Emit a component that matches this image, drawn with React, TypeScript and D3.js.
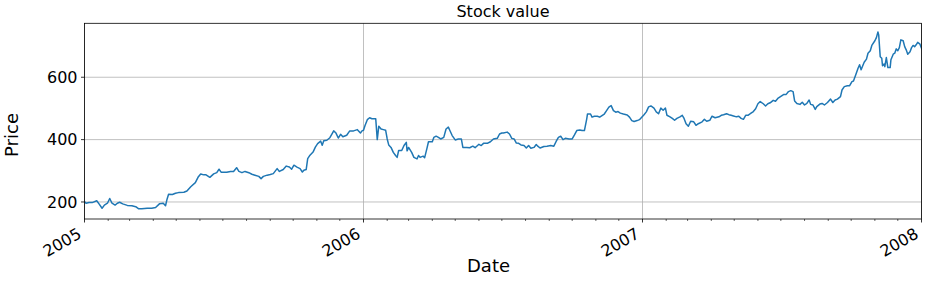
import React, { useEffect } from "react";
import * as d3 from "d3";

const dates: string[] = [
  "2004-12-31","2005-01-03","2005-01-07","2005-01-11","2005-01-17","2005-01-20","2005-01-24","2005-01-27","2005-01-31",
  "2005-02-03","2005-02-06","2005-02-10","2005-02-13","2005-02-16","2005-02-20","2005-02-26","2005-03-04","2005-03-09",
  "2005-03-13","2005-03-17","2005-03-24","2005-03-30","2005-04-04","2005-04-09","2005-04-14","2005-04-17","2005-04-19",
  "2005-04-21","2005-04-26","2005-04-30","2005-05-04","2005-05-11","2005-05-15","2005-05-20","2005-05-26","2005-05-30",
  "2005-06-02","2005-06-06","2005-06-09","2005-06-14","2005-06-19","2005-06-23","2005-06-26","2005-06-29","2005-07-02",
  "2005-07-06","2005-07-11","2005-07-15","2005-07-19","2005-07-22","2005-07-26","2005-07-30","2005-08-04","2005-08-08",
  "2005-08-12","2005-08-17","2005-08-20","2005-08-23","2005-08-28","2005-09-01","2005-09-05","2005-09-10","2005-09-13",
  "2005-09-18","2005-09-22","2005-09-26","2005-09-29","2005-10-02","2005-10-06","2005-10-10","2005-10-13","2005-10-15",
  "2005-10-18","2005-10-20","2005-10-23","2005-10-27","2005-10-30","2005-11-02","2005-11-06","2005-11-08","2005-11-10",
  "2005-11-14","2005-11-18","2005-11-21","2005-11-23","2005-11-26","2005-11-29","2005-12-02","2005-12-05","2005-12-10",
  "2005-12-14","2005-12-19","2005-12-24","2005-12-28","2005-12-30","2006-01-01",
  "2006-01-03","2006-01-06","2006-01-09","2006-01-12","2006-01-17","2006-01-19","2006-01-21","2006-01-24","2006-01-27",
  "2006-01-30","2006-02-01","2006-02-03","2006-02-06","2006-02-09","2006-02-12","2006-02-14","2006-02-16","2006-02-20",
  "2006-02-23","2006-02-26","2006-02-27","2006-03-01","2006-03-05","2006-03-08","2006-03-12","2006-03-14","2006-03-16",
  "2006-03-20","2006-03-22","2006-03-25","2006-03-27","2006-04-01","2006-04-03","2006-04-06","2006-04-09","2006-04-12",
  "2006-04-16","2006-04-19","2006-04-22","2006-04-24","2006-04-27","2006-05-01","2006-05-05","2006-05-09","2006-05-11",
  "2006-05-16","2006-05-20","2006-05-24","2006-05-27","2006-06-01","2006-06-04","2006-06-07","2006-06-12","2006-06-16",
  "2006-06-20","2006-06-25","2006-06-28","2006-07-01","2006-07-03",
  "2006-07-08","2006-07-11","2006-07-14","2006-07-17","2006-07-20","2006-07-23","2006-07-26","2006-07-30","2006-08-02",
  "2006-08-05","2006-08-08","2006-08-12","2006-08-15","2006-08-17","2006-08-20","2006-08-25","2006-08-29","2006-09-03",
  "2006-09-07","2006-09-10","2006-09-13","2006-09-16","2006-09-19","2006-09-22","2006-09-27","2006-10-01","2006-10-04",
  "2006-10-07","2006-10-11","2006-10-14","2006-10-17","2006-10-20","2006-10-21","2006-10-25","2006-10-27","2006-10-30",
  "2006-11-03","2006-11-06","2006-11-09","2006-11-12","2006-11-15","2006-11-18","2006-11-21","2006-11-24","2006-11-27",
  "2006-11-30","2006-12-03","2006-12-07","2006-12-12","2006-12-15","2006-12-18","2006-12-21","2006-12-25","2006-12-28",
  "2006-12-31","2007-01-03",
  "2007-01-06","2007-01-09","2007-01-12","2007-01-16","2007-01-19","2007-01-22","2007-01-25","2007-01-28","2007-01-31",
  "2007-02-02","2007-02-06","2007-02-09","2007-02-12","2007-02-15","2007-02-19","2007-02-22","2007-02-24","2007-02-27",
  "2007-03-02","2007-03-05","2007-03-09","2007-03-12","2007-03-15","2007-03-20","2007-03-23","2007-03-26","2007-03-30",
  "2007-04-02","2007-04-06","2007-04-11","2007-04-14","2007-04-17","2007-04-21","2007-04-24","2007-04-27","2007-04-30",
  "2007-05-04","2007-05-07","2007-05-10","2007-05-13","2007-05-16","2007-05-19","2007-05-22","2007-05-26","2007-05-29",
  "2007-06-01","2007-06-04","2007-06-08","2007-06-11","2007-06-14","2007-06-17","2007-06-21","2007-06-24","2007-06-27",
  "2007-06-30","2007-07-05",
  "2007-07-08","2007-07-11","2007-07-14","2007-07-17","2007-07-19","2007-07-22","2007-07-26","2007-07-29","2007-08-01",
  "2007-08-04","2007-08-07","2007-08-09","2007-08-12","2007-08-15","2007-08-17","2007-08-21","2007-08-24","2007-08-27",
  "2007-08-31","2007-09-04","2007-09-07","2007-09-10","2007-09-13","2007-09-17","2007-09-19","2007-09-22","2007-09-26",
  "2007-09-29","2007-10-02","2007-10-04","2007-10-07","2007-10-10","2007-10-12","2007-10-14","2007-10-18","2007-10-21",
  "2007-10-23","2007-10-26","2007-10-28","2007-11-01","2007-11-03","2007-11-05","2007-11-06","2007-11-08","2007-11-10",
  "2007-11-11","2007-11-13","2007-11-14","2007-11-16","2007-11-18","2007-11-21","2007-11-22","2007-11-25","2007-11-27",
  "2007-11-29","2007-12-01","2007-12-03","2007-12-05","2007-12-08","2007-12-10","2007-12-12","2007-12-14","2007-12-17",
  "2007-12-19","2007-12-21","2007-12-23","2007-12-25","2007-12-27","2007-12-30","2008-01-01","2008-01-04"
];

const prices: number[] = [
  204,196,198,198,204,194,180,190,196,
  211,196,190,196,199,194,189,188,185,
  178,178,180,180,182,194,196,188,209,
  225,224,228,230,231,235,249,262,281,
  290,287,287,279,290,294,305,295,295,
  295,298,298,310,298,294,298,294,289,
  286,282,275,282,286,288,291,307,298,
  304,315,312,305,318,312,307,296,302,
  304,339,350,360,376,387,395,382,396,
  398,406,419,428,421,405,417,409,414,
  428,428,432,421,428,430,
  445,464,470,467,467,400,443,434,432,
  430,402,383,375,359,349,343,365,365,
  381,391,364,375,359,343,338,349,343,
  347,342,372,393,393,407,411,407,402,
  407,434,440,429,413,399,402,402,375,
  375,374,379,374,385,381,388,388,393,
  402,404,418,421,421,
  424,418,404,402,389,388,383,381,373,
  381,372,375,384,379,373,378,379,381,
  379,394,407,411,400,404,402,402,415,
  429,431,429,429,466,482,482,472,475,
  475,472,477,482,493,504,509,493,488,
  490,485,482,479,472,461,458,461,464,
  472,480,
  489,505,508,501,489,483,501,494,501,
  478,473,468,462,468,473,478,470,451,
  443,459,457,446,451,457,465,459,462,
  475,470,473,478,480,483,480,478,476,
  473,475,468,465,478,478,483,490,499,
  515,522,515,508,515,518,526,523,532,
  537,545,
  545,554,557,554,524,516,513,520,511,
  516,527,513,511,497,506,514,516,511,
  519,530,519,527,530,538,559,570,573,
  573,586,588,608,629,640,624,648,658,
  677,685,702,717,727,745,736,666,661,
  637,642,634,663,631,631,656,674,677,
  691,685,695,720,717,698,688,674,682,
  695,702,698,704,712,706,693,680
];

const yTicks: number[] = [200, 400, 600];
const xTickLabels: string[] = ["2005", "2006", "2007", "2008"];
const yDomain: [number, number] = [145.4, 773];

const W = 936;
const H = 288;
const L = 84.5, R = 921.5, T = 23.3, B = 219;
const FONT = "DejaVu Sans, sans-serif";

export default function App() {
  useEffect(() => {
    document.body.style.margin = "0";
  }, []);
  const parse = d3.utcParse("%Y-%m-%d");
  const data = dates.map((d, i) => ({ date: parse(d) as Date, v: prices[i] }));
  const start = parse("2005-01-01") as Date;
  const end = parse("2008-01-01") as Date;
  const x = d3.scaleUtc().domain([start, end]).range([L, R]);
  const y = d3.scaleLinear().domain(yDomain).range([B, T]);
  const line = d3
    .line<{ date: Date; v: number }>()
    .x((d) => x(d.date))
    .y((d) => y(d.v));
  const years = xTickLabels.map((t) => parse(t + "-01-01") as Date);
  const months = d3.utcMonth.range(start, end).filter((m) => m.getUTCMonth() !== 0);

  return (
    <svg width={W} height={H} style={{ position: "absolute", left: 0, top: 0, background: "#fff" }}>
      <defs>
        <clipPath id="plotclip">
          <rect x={L} y={T} width={R - L} height={B - T} />
        </clipPath>
      </defs>
      <rect x={0} y={0} width={W} height={H} fill="#fff" />
      {/* grid */}
      {yTicks.map((t) => (
        <line key={"gy" + t} x1={L} x2={R} y1={y(t)} y2={y(t)} stroke="#b0b0b0" strokeWidth={0.8} />
      ))}
      {years.map((d, i) => (
        <line key={"gx" + i} x1={x(d)} x2={x(d)} y1={T} y2={B} stroke="#b0b0b0" strokeWidth={0.8} />
      ))}
      {/* data */}
      <path
        d={line(data) || ""}
        fill="none"
        stroke="#1f77b4"
        strokeWidth={1.5}
        strokeLinejoin="round"
        clipPath="url(#plotclip)"
      />
      {/* spines */}
      <rect x={L} y={T} width={R - L} height={B - T} fill="none" stroke="#000" strokeWidth={0.8} />
      {/* y ticks */}
      {yTicks.map((t) => (
        <g key={"yt" + t}>
          <line x1={L - 3.5} x2={L} y1={y(t)} y2={y(t)} stroke="#000" strokeWidth={0.8} />
          <text x={L - 7} y={y(t)} dy="0.36em" textAnchor="end" fontFamily={FONT} fontSize={16} fill="#000">
            {t}
          </text>
        </g>
      ))}
      {/* x minor ticks */}
      {months.map((m, i) => (
        <line key={"mt" + i} x1={x(m)} x2={x(m)} y1={B} y2={B + 2} stroke="#000" strokeWidth={0.6} />
      ))}
      {/* x major ticks */}
      {years.map((d, i) => (
        <g key={"xt" + i}>
          <line x1={x(d)} x2={x(d)} y1={B} y2={B + 3.5} stroke="#000" strokeWidth={0.8} />
          <text
            transform={`translate(${x(d) - 2},${B + 18}) rotate(-30)`}
            textAnchor="end"
            fontFamily={FONT}
            fontSize={16}
            fill="#000"
          >
            {xTickLabels[i]}
          </text>
        </g>
      ))}
      {/* labels */}
      <text x={(L + R) / 2} y={17.3} textAnchor="middle" fontFamily={FONT} fontSize={16} fill="#000">
        Stock value
      </text>
      <text x={488.5} y={272} textAnchor="middle" fontFamily={FONT} fontSize={18} fill="#000">
        Date
      </text>
      <text
        transform={`translate(18,135) rotate(-90)`}
        textAnchor="middle"
        fontFamily={FONT}
        fontSize={18}
        fill="#000"
      >
        Price
      </text>
    </svg>
  );
}
